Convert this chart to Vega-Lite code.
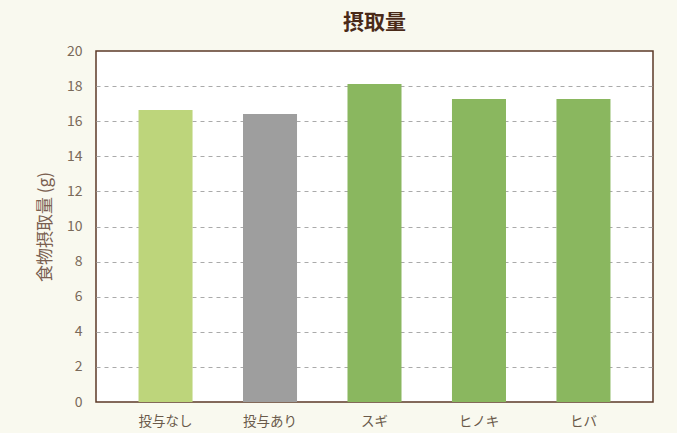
{
  "$schema": "https://vega.github.io/schema/vega-lite/v6.json",
  "width": 557,
  "height": 351,
  "autosize": {"type": "none"},
  "padding": {"left": 96, "top": 51, "right": 24, "bottom": 31},
  "background": "#f9f9ef",
  "title": {
    "text": "摂取量",
    "font": "Noto Sans CJK JP",
    "fontSize": 21,
    "fontWeight": "bold",
    "color": "#4a2a18",
    "anchor": "middle",
    "offset": 11
  },
  "config": {
    "view": {"fill": "#ffffff", "stroke": "#5c3a28", "strokeWidth": 1.5},
    "font": "Noto Sans CJK JP"
  },
  "data": {
    "values": [
      {"group": "投与なし", "value": 16.64, "type": "none"},
      {"group": "投与あり", "value": 16.41, "type": "control"},
      {"group": "スギ", "value": 18.12, "type": "wood"},
      {"group": "ヒノキ", "value": 17.26, "type": "wood"},
      {"group": "ヒバ", "value": 17.26, "type": "wood"}
    ]
  },
  "mark": {"type": "bar"},
  "encoding": {
    "x": {
      "field": "group",
      "type": "nominal",
      "sort": null,
      "scale": {"paddingInner": 0.483, "paddingOuter": 0.407},
      "axis": {
        "title": null,
        "labelAngle": 0,
        "labelFontSize": 13.5,
        "labelColor": "#6a5a4a",
        "labelPadding": 12,
        "ticks": false,
        "domain": false
      }
    },
    "y": {
      "field": "value",
      "type": "quantitative",
      "scale": {"domain": [0, 20], "nice": false},
      "axis": {
        "title": "食物摂取量 (g)",
        "titleFontSize": 17,
        "titleFontWeight": "normal",
        "titleColor": "#7a6050",
        "titlePadding": 12,
        "values": [0, 2, 4, 6, 8, 10, 12, 14, 16, 18, 20],
        "labelFontSize": 14,
        "labelColor": "#7a6a5a",
        "labelPadding": 14,
        "ticks": false,
        "domain": false,
        "grid": true,
        "gridColor": "#aaaaaa",
        "gridDash": [4, 4],
        "gridWidth": 1,
        "gridOpacity": {"condition": {"test": "datum.value === 0 || datum.value === 20", "value": 0}, "value": 1}
      }
    },
    "color": {
      "field": "type",
      "type": "nominal",
      "scale": {
        "domain": ["none", "control", "wood"],
        "range": ["#bdd57b", "#9e9e9e", "#8ab75f"]
      },
      "legend": null
    }
  }
}
